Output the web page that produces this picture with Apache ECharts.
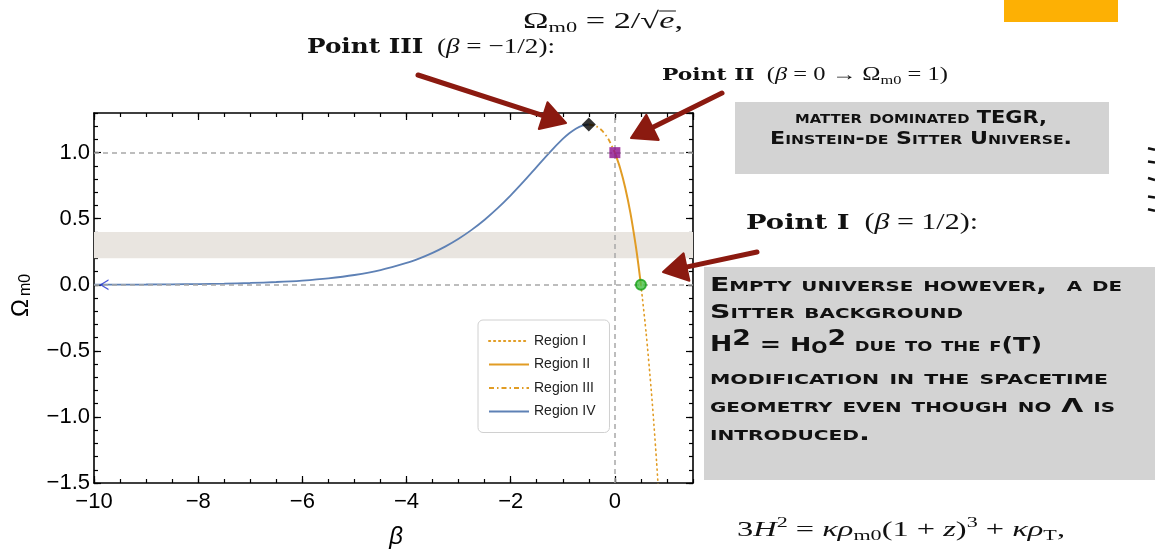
<!DOCTYPE html>
<html>
<head>
<meta charset="utf-8">
<script src="https://cdn.jsdelivr.net/npm/echarts@6/dist/echarts.min.js"></script>
<style>
  html, body { margin: 0; padding: 0; background: #ffffff; }
  #chart { width: 1155px; height: 551px; }
</style>
</head>
<body>
<div id="chart"></div>
<script>
// Ω_m0 versus β, split into the four regions of the parameter space
const regionIV = [
  [-10, 0.001], [-9.5, 0.0015], [-9, 0.0023], [-8.5, 0.0037], [-8, 0.0057],
  [-7.5, 0.0089], [-7, 0.0137], [-6.5, 0.021], [-6, 0.0322], [-5.5, 0.049],
  [-5, 0.0741], [-4.5, 0.111], [-4, 0.165], [-3.75, 0.2], [-3.5, 0.2416],
  [-3.25, 0.2908], [-3, 0.3485], [-2.75, 0.4155], [-2.5, 0.4925], [-2.25, 0.5797],
  [-2, 0.6767], [-1.75, 0.782], [-1.5, 0.8925], [-1.25, 1.0028], [-1, 1.1036],
  [-0.875, 1.1464], [-0.75, 1.1809], [-0.625, 1.2043], [-0.5, 1.2131]
];
const regionIII = [[-0.5, 1.2131], [-0.375, 1.2028], [-0.25, 1.1682], [-0.125, 1.1031], [0, 1]];
const regionII = [[0, 1], [0.1, 0.8841], [0.2, 0.7328], [0.3, 0.5399], [0.4, 0.2984], [0.45, 0.1568], [0.5, 0]];
const regionI = [[0.5, 0], [0.6, -0.3644], [0.7, -0.8055], [0.75, -1.0585], [0.8, -1.3353], [0.85, -1.6378]];

// critical points
const pointIII = [-0.5, 1.2131];
const pointII = [0, 1];
const pointI = [0.5, 0];
const arrowStart = [-10, 0];

// guide lines and the shaded observational band
const guideOmega = [0, 1];
const guideBeta = [0];
const band = [0.2, 0.4];

const legendNames = ['Region I', 'Region II', 'Region III', 'Region IV'];

const ORANGE = '#e19c24';
const BLUE = '#5e81b5';
const RED = '#8b1a10';

const minus = v => String(v).replace('-', '\u2212');

// ---- text helpers -------------------------------------------------------
const mctx = document.createElement('canvas').getContext('2d');
function textWidth(t, font) { mctx.font = font; return mctx.measureText(t).width; }

// lays out runs of text on a shared baseline, optionally stretched to a width
function textRuns(x, y, runs, target, color) {
  let cx = 0;
  const kids = [];
  runs.forEach(r => {
    const w = textWidth(r.t, r.f);
    const size = parseFloat(r.f.match(/([\d.]+)px/)[1]);
    const yy = -0.30 * size + (r.dy || 0);
    kids.push({
      type: 'text',
      style: { text: r.t, x: cx, y: yy, font: r.f, fill: color || '#111',
               textAlign: 'left', align: 'left', textVerticalAlign: 'middle', verticalAlign: 'middle' }
    });
    if (r.over) {
      kids.push({ type: 'line', shape: { x1: cx, y1: r.over, x2: cx + w + 1, y2: r.over },
                  style: { stroke: color || '#111', lineWidth: 1 } });
    }
    cx += w;
  });
  const s = target ? target / cx : 1;
  return { type: 'group', x: x, y: y, scaleX: s, children: kids };
}

const SER = '"Liberation Serif", "DejaVu Serif", serif';
const reg = n => n + 'px ' + SER;
const ita = n => 'italic ' + n + 'px ' + SER;
const bold = n => 'bold ' + n + 'px "DejaVu Serif", serif';
const caps = n => 'small-caps bold ' + n + 'px "DejaVu Sans", sans-serif';

function capsLine(x, y, text, size, target, align) {
  const f = caps(size);
  const w = textWidth(text, f);
  return {
    type: 'text', x: x, y: y, scaleX: target / w,
    style: { text: text, x: 0, y: 0, font: f, fill: '#111',
             textAlign: align || 'left', align: align || 'left',
             textVerticalAlign: 'middle', verticalAlign: 'middle' }
  };
}

function arrow(tail, tip, headLen, headHalf) {
  const dx = tip[0] - tail[0], dy = tip[1] - tail[1];
  const L = Math.hypot(dx, dy), ux = dx / L, uy = dy / L;
  const bx = tip[0] - headLen * ux, by = tip[1] - headLen * uy;
  const nx = -uy, ny = ux;
  return [
    { type: 'line', shape: { x1: tail[0], y1: tail[1], x2: bx + 4 * ux, y2: by + 4 * uy },
      style: { stroke: RED, lineWidth: 5, lineCap: 'round' }, z: 100 },
    { type: 'polygon', shape: { points: [tip, [bx + headHalf * nx, by + headHalf * ny], [bx - headHalf * nx, by - headHalf * ny]] },
      style: { fill: RED, stroke: RED, lineWidth: 2, lineJoin: 'round' }, z: 100 }
  ];
}

// ---- axes ----------------------------------------------------------------
const axisFont = { fontFamily: '"Liberation Sans", Arial, sans-serif', fontSize: 22, color: '#000' };
const blackLine = { show: true, onZero: false, lineStyle: { color: '#000', width: 1.6 } };
const noLine = { show: false, onZero: false };

function xAx(pos, interval, len, labels, line) {
  return {
    type: 'value', position: pos, min: -10, max: 1.5, interval: interval,
    axisLine: line ? blackLine : noLine,
    axisTick: { show: true, inside: true, length: len, lineStyle: { color: '#000', width: 1.2 } },
    axisLabel: labels ? Object.assign({ show: true, margin: 8, showMaxLabel: false, formatter: v => minus(v) }, axisFont) : { show: false },
    splitLine: { show: false }
  };
}
function yAx(pos, interval, len, labels, line) {
  return {
    type: 'value', position: pos, min: -1.5, max: 1.3, interval: interval,
    axisLine: line ? blackLine : noLine,
    axisTick: { show: true, inside: true, length: len, lineStyle: { color: '#000', width: 1.2 } },
    axisLabel: labels ? Object.assign({ show: true, margin: 4, showMaxLabel: false, formatter: v => minus(v.toFixed(1)) }, axisFont) : { show: false },
    splitLine: { show: false }
  };
}

const chart = echarts.init(document.getElementById('chart'), null, { renderer: 'canvas' });

const graphics = [];
// orange tab in the corner
graphics.push({ type: 'rect', shape: { x: 1004, y: 0, width: 114, height: 22 }, style: { fill: '#fdb004' } });
// marks at the right border
[[149, 1.5], [162, 1], [179, 2], [197, 1], [210, 1.5]].forEach(m => {
  graphics.push({ type: 'line', shape: { x1: 1148, y1: m[0] - m[1] / 2, x2: 1155, y2: m[0] + m[1] / 2 },
                  style: { stroke: '#111', lineWidth: 2.4 } });
});
// grey note boxes
graphics.push({ type: 'rect', shape: { x: 735, y: 102, width: 374, height: 72 }, style: { fill: '#d3d3d3' } });
graphics.push({ type: 'rect', shape: { x: 704, y: 267, width: 451, height: 213 }, style: { fill: '#d3d3d3' } });
graphics.push(capsLine(921, 119, 'matter dominated TEGR,', 17, 252, 'center'));
graphics.push(capsLine(921, 140, 'Einstein-de Sitter Universe.', 17, 302, 'center'));

graphics.push(capsLine(710, 286, 'Empty universe however,  a de', 20, 412));
graphics.push(capsLine(710, 313, 'Sitter background', 20, 253));
graphics.push(textRuns(710, 352, [
  { t: 'H', f: caps(21) }, { t: '2', f: caps(21), dy: -6 },
  { t: ' = H', f: caps(20) }, { t: 'o', f: caps(21), dy: 2 }, { t: '2', f: caps(21), dy: -6 },
  { t: ' due to the f(T)', f: caps(20) }
], 332));
graphics.push(capsLine(710, 379, 'modification in the spacetime', 20, 398));
graphics.push(capsLine(710, 407, 'geometry even though no \u039b is', 20, 405));
graphics.push(capsLine(710, 435, 'introduced.', 20, 160));

// headings and equations
graphics.push(textRuns(523, 29, [
  { t: '\u03a9', f: reg(23) }, { t: 'm0', f: reg(15), dy: 4 },
  { t: ' = 2/\u221a', f: reg(23) }, { t: 'e', f: ita(23), over: -18 }, { t: ',', f: reg(23) }
], 160));
graphics.push(textRuns(307, 54, [
  { t: 'Point III', f: bold(20) }, { t: '  (', f: reg(22) }, { t: '\u03b2', f: ita(22) },
  { t: ' = \u22121/2):', f: reg(22) }
], 248));
graphics.push(textRuns(662, 81, [
  { t: 'Point II', f: bold(16) }, { t: '  (', f: reg(18) }, { t: '\u03b2', f: ita(18) },
  { t: ' = 0 \u2192 \u03a9', f: reg(18) }, { t: 'm0', f: reg(12), dy: 3 }, { t: ' = 1)', f: reg(18) }
], 286));
graphics.push(textRuns(746, 230, [
  { t: 'Point I', f: bold(21) }, { t: '  (', f: reg(23) }, { t: '\u03b2', f: ita(23) },
  { t: ' = 1/2):', f: reg(23) }
], 232));
graphics.push(textRuns(737, 537, [
  { t: '3', f: reg(22) }, { t: 'H', f: ita(22) }, { t: '2', f: reg(15), dy: -9 },
  { t: ' = ', f: reg(22) }, { t: '\u03ba\u03c1', f: ita(22) }, { t: 'm0', f: reg(15), dy: 4 },
  { t: '(1 + ', f: reg(22) }, { t: 'z', f: ita(22) }, { t: ')', f: reg(22) }, { t: '3', f: reg(15), dy: -9 },
  { t: ' + ', f: reg(22) }, { t: '\u03ba\u03c1', f: ita(22) }, { t: 'T', f: reg(15), dy: 4 }, { t: ',', f: reg(22) }
], 328));

// axis titles
graphics.push({
  type: 'group', x: 21, y: 300, rotation: Math.PI / 2,
  children: [
    { type: 'text', style: { text: '\u03a9', x: -8, y: 0, font: '24px "Liberation Sans", Arial, sans-serif', fill: '#000',
      textAlign: 'center', align: 'center', textVerticalAlign: 'middle', verticalAlign: 'middle' } },
    { type: 'text', style: { text: 'm0', x: 4, y: 5, font: '16px "Liberation Sans", Arial, sans-serif', fill: '#000',
      textAlign: 'left', align: 'left', textVerticalAlign: 'middle', verticalAlign: 'middle' } }
  ]
});
graphics.push({ type: 'text', style: { text: '\u03b2', x: 396, y: 537, font: 'italic 24px "Liberation Sans", Arial, sans-serif',
  fill: '#000', textAlign: 'center', align: 'center', textVerticalAlign: 'middle', verticalAlign: 'middle' } });

// pointer arrows
graphics.push(...arrow([418, 75], [566, 123], 24, 14));
graphics.push(...arrow([722, 93], [631, 138], 24, 14));
graphics.push(...arrow([757, 252], [663, 272], 24, 14));

const option = {
  animation: false,
  backgroundColor: '#ffffff',
  grid: { left: 94, top: 113, width: 599, height: 370, containLabel: false },
  xAxis: [
    xAx('bottom', 2, 7, true, true),
    xAx('bottom', 0.5, 4, false, false),
    xAx('top', 2, 7, false, true),
    xAx('top', 0.5, 4, false, false)
  ],
  yAxis: [
    yAx('left', 0.5, 7, true, true),
    yAx('left', 0.1, 4, false, false),
    yAx('right', 0.5, 7, false, true),
    yAx('right', 0.1, 4, false, false)
  ],
  legend: {
    data: legendNames,
    orient: 'vertical', left: 478, top: 320,
    padding: [14, 14, 14, 10], itemWidth: 40, itemHeight: 12, itemGap: 9.5,
    borderColor: '#d0d0d0', borderWidth: 1, borderRadius: 5, backgroundColor: '#ffffff',
    itemStyle: { opacity: 0 },
    textStyle: { fontFamily: '"Liberation Sans", Arial, sans-serif', fontSize: 14, color: '#222' },
    selectedMode: false
  },
  graphic: graphics,
  series: [
    {
      name: 'guides', type: 'line', data: [arrowStart], symbol: 'none', z: 1, silent: true,
      lineStyle: { opacity: 0 },
      markArea: { silent: true, itemStyle: { color: '#e9e5e0' },
        data: [[{ yAxis: band[0] }, { yAxis: band[1] }]] },
      markLine: { silent: true, symbol: 'none', label: { show: false },
        lineStyle: { color: '#a8a8a8', type: [5, 4], width: 1.5 },
        data: guideOmega.map(v => ({ yAxis: v })).concat(guideBeta.map(v => ({ xAxis: v }))) }
    },
    { name: 'Region I', type: 'line', data: regionI, symbol: 'none', smooth: 0.3, z: 3,
      lineStyle: { color: ORANGE, width: 1.6, type: [1.2, 3.8], cap: 'round' }, itemStyle: { color: ORANGE } },
    { name: 'Region II', type: 'line', data: regionII, symbol: 'none', smooth: 0.3, z: 3,
      lineStyle: { color: ORANGE, width: 2 }, itemStyle: { color: ORANGE } },
    { name: 'Region III', type: 'line', data: regionIII, symbol: 'none', smooth: 0.3, z: 3,
      lineStyle: { color: ORANGE, width: 1.8, type: [5, 3, 1.5, 3] }, itemStyle: { color: ORANGE } },
    { name: 'Region IV', type: 'line', data: regionIV, symbol: 'none', smooth: 0.3, z: 3,
      lineStyle: { color: BLUE, width: 1.8 }, itemStyle: { color: BLUE } },
    { name: 'start', type: 'scatter', data: [arrowStart], z: 5, silent: true,
      symbol: 'path://M10,0 L0,5 L10,10 L10,8.6 L2.6,5 L10,1.4 Z', symbolSize: [9, 11], symbolOffset: [10, 0],
      itemStyle: { color: '#1f2fd0' } },
    { name: 'Point III', type: 'scatter', data: [pointIII], z: 6, silent: true,
      symbol: 'diamond', symbolSize: 14, itemStyle: { color: '#000' } },
    { name: 'Point II', type: 'scatter', data: [pointII], z: 6, silent: true,
      symbol: 'rect', symbolSize: 11, itemStyle: { color: '#8c0f8c' } },
    { name: 'Point I', type: 'scatter', data: [pointI], z: 6, silent: true,
      symbol: 'circle', symbolSize: 10, itemStyle: { color: '#46c046', borderColor: '#15a015', borderWidth: 2 } }
  ]
};
chart.setOption(option);
</script>
</body>
</html>
